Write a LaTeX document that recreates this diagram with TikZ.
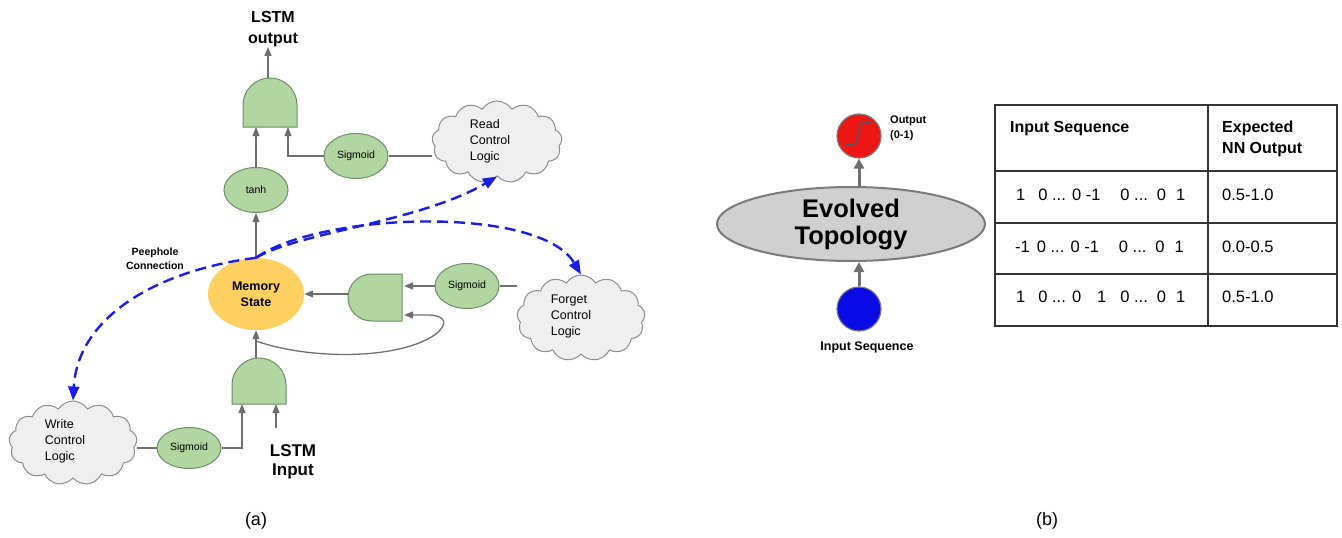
\documentclass[tikz,border=0pt]{standalone}
\usepackage{fontspec}
\setmainfont{Liberation Sans}
\usetikzlibrary{shapes.geometric,shapes.symbols,arrows.meta}
\definecolor{gfill}{HTML}{B2D6A2}
\definecolor{gdraw}{HTML}{6E8C66}
\definecolor{cfill}{HTML}{EFEFEF}
\definecolor{cdraw}{HTML}{8C8C8C}
\definecolor{memfill}{HTML}{FDD061}
\definecolor{conn}{HTML}{6E6E6E}
\definecolor{peep}{HTML}{1C1CE8}
\definecolor{evofill}{HTML}{D0D0D0}
\definecolor{evodraw}{HTML}{7A7A7A}
\definecolor{redc}{HTML}{EE1515}
\definecolor{bluec}{HTML}{0A0AE6}
\definecolor{tblc}{HTML}{333333}
\begin{document}
\begin{tikzpicture}[x=1pt,y=-1pt,
  fn/.style={ellipse, fill=gfill, draw=gdraw, line width=1pt, minimum width=64pt, minimum height=45pt, inner sep=0pt, font=\fontsize{10.5}{12}\selectfont},
  memory/.style={ellipse, fill=memfill, minimum width=96pt, minimum height=72pt, inner sep=0pt, align=center, font=\fontsize{12.5}{16}\selectfont\bfseries},
  cloudbox/.style={cloud, cloud puffs=13, cloud puff arc=115, cloud ignores aspect, fill=cfill, draw=cdraw, line width=1pt, inner sep=0pt},
  cloudtext/.style={align=left, font=\fontsize{12.5}{16}\selectfont, inner sep=0pt},
  gate/.style={fill=gfill, draw=gdraw, line width=1pt},
  wire/.style={draw=conn, line width=1.3pt},
  arr/.style={wire, -{Triangle[length=9pt,width=7pt]}},
  peepline/.style={draw=peep, line width=2.4pt, dash pattern=on 11pt off 6pt, -{Triangle[length=14pt,width=11pt]}},
  barr/.style={draw=conn, line width=3pt, -{Triangle[length=10pt,width=10pt]}},
  biglabel/.style={align=center, inner sep=0pt, font=\fontsize{16}{21}\selectfont\bfseries},
  smallbold/.style={align=center, inner sep=0pt, font=\fontsize{10.5}{14}\selectfont\bfseries},
  tbl/.style={draw=tblc, line width=1.5pt},
  cellhead/.style={anchor=west, align=left, inner sep=0pt, font=\fontsize{16}{21}\selectfont\bfseries},
  cellseq/.style={anchor=west, inner sep=0pt, font=\fontsize{16.5}{20}\selectfont},
  cellval/.style={anchor=west, inner sep=0pt, font=\fontsize{16.5}{20}\selectfont},
  sublabel/.style={inner sep=0pt, font=\fontsize{18}{20}\selectfont}
]
\useasboundingbox (0,0) rectangle (1342,538);

% ---------------- (a) ----------------
\path[gate] (243,127) -- (243,105) .. controls (243,90.1) and (255.1,78) .. (270,78) .. controls (284.9,78) and (297,90.1) .. (297,105) -- (297,127) -- cycle;
\coordinate (tgL) at (256,127);
\coordinate (tgR) at (288,127);
\coordinate (tgT) at (268,78);

\path[gate] (232,404) -- (232,385) .. controls (232,370.1) and (244.1,358) .. (259,358) .. controls (273.9,358) and (286,370.1) .. (286,385) -- (286,404) -- cycle;
\coordinate (lgL) at (242,404);
\coordinate (lgR) at (276,404);
\coordinate (lgT) at (256,358);

\path[gate] (402,274) -- (371.5,274) .. controls (358.5,274) and (348,284.5) .. (348,297.5) .. controls (348,310.5) and (358.5,321) .. (371.5,321) -- (402,321) -- cycle;
\coordinate (fgW) at (348,294);
\coordinate (fgT) at (404,286);
\coordinate (fgB) at (404,315);

\node[biglabel] (lout) at (273,29) {LSTM\\output};
\node[fn] (tanh) at (256,190) {tanh};
\node[fn] (sigR) at (356,156) {Sigmoid};
\node[fn] (sigF) at (467,286) {Sigmoid};
\node[fn, minimum height=41pt] (sigW) at (189,448) {Sigmoid};
\node[memory] (mem) at (256,294) {Memory\\State};

\node[cloudbox, minimum width=130pt, minimum height=82pt] (rc) at (497,142) {};
\node[cloudtext] (rct) at (490,141) {Read\\Control\\Logic};
\node[cloudbox, minimum width=128pt, minimum height=86pt] (fc) at (581,318) {};
\node[cloudtext] (fct) at (571,316) {Forget\\Control\\Logic};
\node[cloudbox, minimum width=128pt, minimum height=84pt] (wc) at (73,443) {};
\node[cloudtext] (wct) at (65,441) {Write\\Control\\Logic};

\node[smallbold] (peeplab) at (155,259) {Peephole\\Connection};
\node[biglabel, font=\fontsize{17}{19}\selectfont\bfseries] (linp) at (293,462) {LSTM\\Input};
\coordinate (inTail) at (276,428);
\coordinate (fbS) at (256,341);

\draw[arr] (tgT) -- (tgT |- lout.south);
\draw[arr] (tanh.north) -- (tgL);
\draw[arr] (sigR.west) -| (tgR);
\draw[wire] (sigR.east) -- (sigR.east -| rc.west);
\draw[arr] (mem.north) -- (tanh.south);
\draw[arr] (fgW) -- (mem.east);
\draw[arr] (sigF.west) -- (fgT);
\draw[wire] (sigF.east) -- (sigF.east -| fc.west);
\draw[arr] (lgT) -- (mem.south);
\draw[arr] (fbS) .. controls (310,360) and (400,360) .. (436,334) .. controls (448,324) and (446,316) .. (430,315) -- (fgB);
\draw[wire] (sigW.west -| wc.east) -- (sigW.west);
\draw[arr] (sigW.east) -| (lgL);
\draw[arr] (inTail) -- (lgR);

\draw[peepline] (mem.north) .. controls (300,232) and (420,222) .. (rc.south);
\draw[peepline] (mem.north) .. controls (320,212) and (540,205) .. (fc.north);
\draw[peepline] (mem.north) .. controls (160,270) and (78,315) .. (wc.north);

\node[sublabel] (la) at (256,521) {(a)};

% ---------------- (b) ----------------
\node[circle, fill=redc, draw=evodraw, line width=1.2pt, minimum size=44pt, inner sep=0pt] (outc) at (859,136) {};
\draw[draw=black!65, line width=1.6pt] (846,145) -- (853,145) .. controls (859,145) and (857,122) .. (864,122) -- (872,122);
\node[ellipse, fill=evofill, draw=evodraw, line width=2pt, minimum width=268pt, minimum height=74pt, inner sep=0pt, align=center, font=\fontsize{25.5}{27}\selectfont\bfseries] (evo) at (851,224) {Evolved\\Topology};
\node[circle, fill=bluec, draw=evodraw, line width=1.2pt, minimum size=44pt, inner sep=0pt] (inc) at (859,309) {};
\node[smallbold, anchor=west, align=left, font=\fontsize{11}{15}\selectfont\bfseries] (outlab) at (890,128) {Output\\(0-1)};
\node[smallbold, font=\fontsize{12.5}{15}\selectfont\bfseries] (inlab) at (867,347) {Input Sequence};

\draw[barr] (evo.north -| outc) -- (outc.south);
\draw[barr] (inc.north) -- (inc.north |- evo.south);

\draw[tbl] (995,105) rectangle (1337,326);
\draw[tbl] (995,171) -- (1337,171);
\draw[tbl] (995,223) -- (1337,223);
\draw[tbl] (995,274) -- (1337,274);
\draw[tbl] (1208,105) -- (1208,326);

\node[cellhead] (h1) at (1010,129) {Input Sequence};
\node[cellhead] (h2) at (1222,139) {Expected\\NN Output};
\node[cellseq] (r1) at (1016,195) {1\hspace{13pt}0 ... 0 -1\hspace{20pt}0 ...\hspace{9pt}0\hspace{10pt}1};
\node[cellseq] (r2) at (1015,247) {-1\hspace{7pt}0 ... 0 -1\hspace{20pt}0 ...\hspace{9pt}0\hspace{10pt}1};
\node[cellseq] (r3) at (1016,297) {1\hspace{13pt}0 ... 0\hspace{16pt}1\hspace{14pt}0 ...\hspace{9pt}0\hspace{10pt}1};
\node[cellval] (v1) at (1222,195) {0.5-1.0};
\node[cellval] (v2) at (1222,247) {0.0-0.5};
\node[cellval] (v3) at (1222,297) {0.5-1.0};

\node[sublabel] (lb) at (1047,521) {(b)};
\end{tikzpicture}
\end{document}
